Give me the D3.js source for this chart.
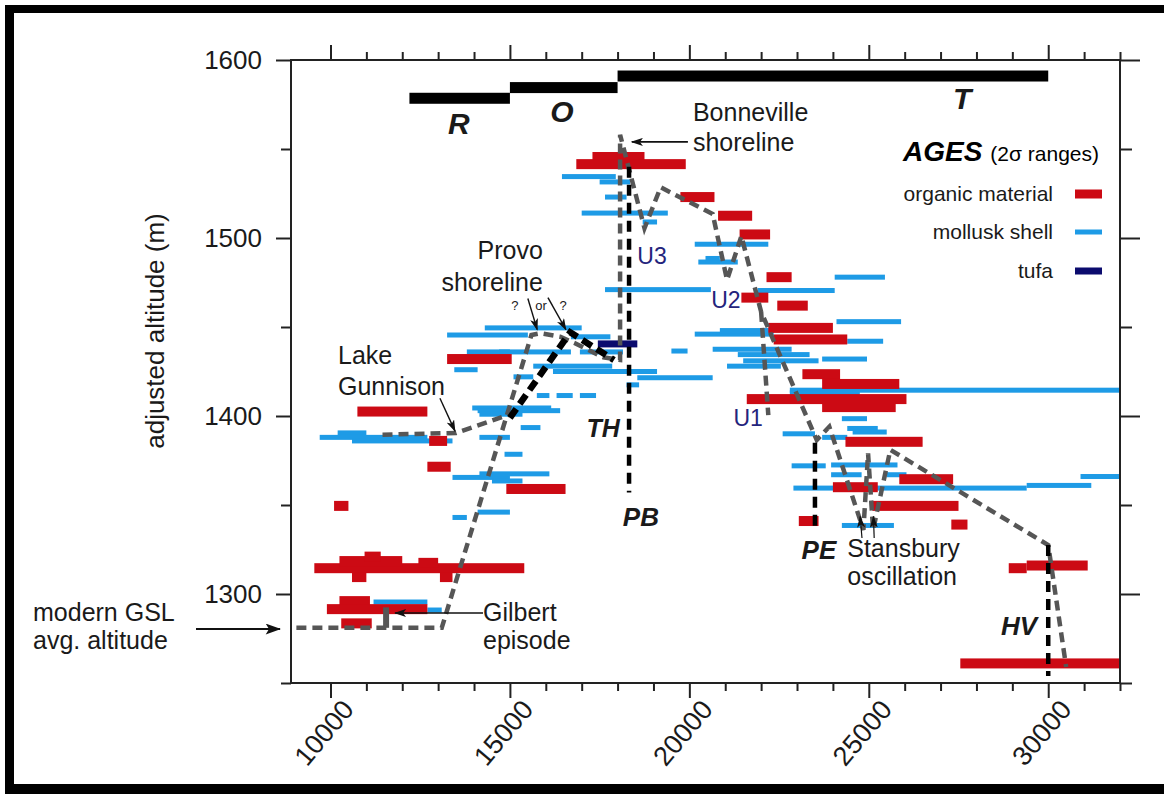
<!DOCTYPE html>
<html>
<head>
<meta charset="utf-8">
<script src="https://cdn.jsdelivr.net/npm/d3@7"></script>
<style>
  html, body { margin: 0; padding: 0; background: #fff; }
  svg { display: block; font-family: "Liberation Sans", Arial, sans-serif; }
</style>
</head>
<body>
<svg id="chart" width="1164" height="794"></svg>
<script>
// Radiocarbon age ranges (2σ, cal yr BP) with adjusted altitude (m): [ageFrom, ageTo, altitude]
const organic = [
  [17300, 18750, 1545.5], [16850, 19900, 1541.5], [19750, 20700, 1523], [20800, 21750, 1512.5],
  [21400, 22250, 1502], [22150, 22850, 1478], [21450, 22200, 1466.5], [22450, 23300, 1462],
  [22200, 24000, 1449.5], [22350, 24400, 1443], [23150, 24200, 1423.5], [23700, 25850, 1418],
  [21600, 26050, 1409.5], [23700, 25750, 1405], [24350, 26500, 1385.5], [25850, 27350, 1364.5],
  [24000, 25250, 1360], [25100, 27500, 1349.5], [23050, 23600, 1341], [27300, 27750, 1339],
  [28900, 29400, 1314.5], [29400, 31100, 1316], [27550, 32000, 1261],
  [10750, 12700, 1402.5], [12750, 13250, 1386], [12700, 13350, 1371.5], [14900, 16550, 1359],
  [10100, 10500, 1349.5], [9550, 15400, 1314.5], [10250, 12000, 1318.5], [10950, 11400, 1321],
  [12450, 13000, 1317.5], [10600, 11000, 1309.5], [13050, 13400, 1309.5], [10250, 11100, 1296],
  [9900, 12700, 1291.5], [10300, 11150, 1283.5], [13250, 15050, 1432]
];
const mollusk = [
  [16450, 17950, 1534.5], [17500, 18350, 1531.5], [17650, 18250, 1523], [17000, 19400, 1514],
  [18700, 19100, 1509], [20150, 22200, 1496.5], [20250, 21350, 1486.5], [20450, 20850, 1488.5],
  [24050, 25450, 1478], [17650, 20600, 1471], [21900, 24050, 1470.5], [24100, 25900, 1453],
  [20150, 22350, 1446], [20850, 22350, 1448], [20650, 22850, 1437.5], [24400, 25400, 1442],
  [21350, 23350, 1434.5], [21500, 23600, 1431], [23700, 24950, 1432], [19500, 19950, 1436.5],
  [21050, 22550, 1428], [18550, 20650, 1421.5], [22800, 32000, 1414.5], [22800, 24750, 1413],
  [24250, 24950, 1398.5], [24400, 25250, 1393], [24550, 25500, 1391], [22600, 23500, 1390],
  [23700, 24400, 1388], [22850, 23800, 1372], [23950, 25800, 1372.5], [25500, 26050, 1367],
  [23950, 24800, 1367], [30900, 32000, 1366], [22900, 29400, 1359.5], [29400, 31200, 1361],
  [24250, 25700, 1338.5],
  [14300, 17000, 1449.5], [13250, 15500, 1445.5], [16700, 17800, 1444.5], [13800, 15000, 1436],
  [14700, 16700, 1436], [16950, 18150, 1436], [13450, 14100, 1426], [15650, 17850, 1428],
  [16200, 19100, 1425], [15100, 15650, 1422], [18250, 18600, 1417.5], [15750, 16100, 1411.5],
  [16300, 16750, 1411.5], [16950, 17400, 1411.5], [13950, 16150, 1404.5], [14100, 16400, 1403],
  [14150, 15350, 1401], [15300, 15850, 1393.5], [10200, 11000, 1390.5], [9700, 12700, 1388],
  [10600, 13400, 1386], [14150, 15000, 1388], [14850, 15350, 1378.5], [13400, 15000, 1365.5],
  [14150, 16100, 1367.5], [14500, 15350, 1363.5], [14100, 15000, 1346], [13400, 13800, 1343],
  [11200, 12700, 1295.5], [12700, 13100, 1291]
];
const tufa = [[17450, 18550, 1440.5]];

// Lake phases: Tolbert (T), Bonneville-overflow (O), Provo-regression (R)
const phaseNames = ["R", "O", "T"];
const phaseAges = [[12200, 15000], [15000, 18000], [18000, 30000]];
const phaseAlts = [1578.5, 1584.5, 1591];

// Interpreted lake-level hydrograph [age, altitude]
const hydrograph = [
  [9050, 1281], [13100, 1281], [15600, 1445.5], [15850, 1446.5], [16400, 1444.5], [16800, 1441],
  [17600, 1433], [18070, 1431.5], [18070, 1558], [18750, 1505.5], [19200, 1528.5], [20650, 1513.5],
  [21050, 1476.5], [21450, 1501], [22000, 1458.5], [23550, 1386.5], [23900, 1394], [24850, 1336],
  [24980, 1379], [25120, 1336], [25600, 1381], [30000, 1327.5], [30500, 1259]
];
const branchU1 = [[22000, 1458.5], [22200, 1400.5]];
const branchGunnison = [[11450, 1389.5], [13500, 1390.5], [14950, 1400.5]];
const pathTH = [[15000, 1399], [16680, 1447], [17900, 1431.5]];
const markerPB = [[18320, 1540], [18320, 1357]];
const markerPE = [[23500, 1385], [23500, 1335]];
const markerHV = [[30000, 1327.5], [30000, 1254]];
const gilbertMark = [[11550, 1292.5], [11550, 1281]];

// Axis ticks
const xMajor = [10000, 15000, 20000, 25000, 30000];
const xMinor = [11000, 12000, 13000, 14000, 16000, 17000, 18000, 19000, 21000, 22000, 23000, 24000,
                26000, 27000, 28000, 29000, 31000, 32000];
const yMajor = [1300, 1400, 1500, 1600];
const yMinor = [1250, 1350, 1450, 1550];

const W = 1164, H = 794;
const P = { left: 291, right: 1120, top: 60, bottom: 683 };
const svg = d3.select("#chart");
const x = d3.scaleLinear().domain([8900, 32000]).range([P.left, P.right]);
const y = d3.scaleLinear().domain([1250, 1600]).range([P.bottom, P.top]);

const RED = "#cc0a14", BLUE = "#1e9be6", NAVY = "#0b0b6e", GREY = "#565656", INK = "#1a1a1a";

svg.append("rect").attr("width", W).attr("height", H).attr("fill", "#fff");

// outer border
svg.append("rect").attr("x", 5).attr("y", 5).attr("width", W - 5).attr("height", 8).attr("fill", "#000");
svg.append("rect").attr("x", 5).attr("y", 5).attr("width", 9).attr("height", H - 5).attr("fill", "#000");
svg.append("rect").attr("x", 5).attr("y", 784).attr("width", W - 5).attr("height", 10).attr("fill", "#000");

const defs = svg.append("defs");
defs.append("clipPath").attr("id", "plotClip").append("rect")
  .attr("x", P.left).attr("y", P.top).attr("width", P.right - P.left).attr("height", P.bottom - P.top);
defs.append("marker").attr("id", "arrow").attr("viewBox", "0 0 12 8")
  .attr("refX", 11).attr("refY", 4).attr("markerWidth", 12).attr("markerHeight", 8)
  .attr("markerUnits", "userSpaceOnUse").attr("orient", "auto")
  .append("path").attr("d", "M0,0 L12,4 L0,8 L3,4 z").attr("fill", "#111");
defs.append("marker").attr("id", "arrowBig").attr("viewBox", "0 0 14 10")
  .attr("refX", 13).attr("refY", 5).attr("markerWidth", 16).attr("markerHeight", 11)
  .attr("markerUnits", "userSpaceOnUse").attr("orient", "auto")
  .append("path").attr("d", "M0,0 L14,5 L0,10 L3,5 z").attr("fill", "#111");

// ---- axes ----
function styleAxis(g) {
  g.select(".domain").remove();
  g.selectAll("line").attr("stroke", "#222").attr("stroke-width", 2);
}
const fmt = d3.format("d");
svg.append("g").attr("transform", `translate(0,${P.bottom})`)
  .call(d3.axisBottom(x).tickValues(xMajor).tickSize(15).tickFormat(fmt))
  .call(styleAxis)
  .call(g => g.selectAll("text").attr("x", 0).attr("y", 0).attr("dy", "0.35em")
    .attr("text-anchor", "end").attr("transform", "translate(17,21) rotate(-50)")
    .attr("font-size", 27).attr("fill", INK).attr("font-family", "Liberation Sans, Arial, sans-serif"));
svg.append("g").attr("transform", `translate(0,${P.bottom})`)
  .call(d3.axisBottom(x).tickValues(xMinor).tickSize(8).tickFormat(""))
  .call(styleAxis);
svg.append("g").attr("transform", `translate(0,${P.top})`)
  .call(d3.axisTop(x).tickValues(xMajor).tickSize(15).tickFormat(""))
  .call(styleAxis);
svg.append("g").attr("transform", `translate(0,${P.top})`)
  .call(d3.axisTop(x).tickValues(xMinor).tickSize(8).tickFormat(""))
  .call(styleAxis);
svg.append("g").attr("transform", `translate(${P.left},0)`)
  .call(d3.axisLeft(y).tickValues(yMajor).tickSize(15).tickPadding(14).tickFormat(fmt))
  .call(styleAxis)
  .call(g => g.selectAll("text").attr("font-size", 26).attr("fill", INK)
    .attr("font-family", "Liberation Sans, Arial, sans-serif"));
svg.append("g").attr("transform", `translate(${P.left},0)`)
  .call(d3.axisLeft(y).tickValues(yMinor).tickSize(10).tickFormat(""))
  .call(styleAxis);
svg.append("g").attr("transform", `translate(${P.right},0)`)
  .call(d3.axisRight(y).tickValues(yMajor).tickSize(20).tickFormat(""))
  .call(styleAxis);
svg.append("g").attr("transform", `translate(${P.right},0)`)
  .call(d3.axisRight(y).tickValues(yMinor).tickSize(12).tickFormat(""))
  .call(styleAxis);

svg.append("text").attr("transform", `translate(164,331) rotate(-90)`)
  .attr("text-anchor", "middle").attr("font-size", 26).attr("fill", INK)
  .text("adjusted altitude (m)");

// ---- data marks ----
const marks = svg.append("g").attr("clip-path", "url(#plotClip)");
function bars(data, color, h) {
  marks.append("g").selectAll("rect").data(data).join("rect")
    .attr("x", d => x(d[0])).attr("width", d => x(d[1]) - x(d[0]))
    .attr("y", d => y(d[2]) - h / 2).attr("height", h).attr("fill", color);
}
bars(mollusk, BLUE, 5);
bars(organic, RED, 10);
bars(tufa, NAVY, 7);

const line = d3.line().x(d => x(d[0])).y(d => y(d[1]));
function dashed(data, color, width, dash) {
  marks.append("path").datum(data).attr("d", line).attr("fill", "none")
    .attr("stroke", color).attr("stroke-width", width).attr("stroke-dasharray", dash);
}
dashed(hydrograph, GREY, 4.5, "10,6");
dashed(branchU1, GREY, 4.5, "10,6");
dashed(branchGunnison, GREY, 4.5, "10,6");
dashed(pathTH, "#000", 6.5, "11,6");
dashed(markerPB, "#000", 4.5, "11,7");
dashed(markerPE, "#000", 4.5, "11,7");
dashed(markerHV, "#000", 4.5, "11,7");
marks.append("path").datum(gilbertMark).attr("d", line).attr("stroke", GREY).attr("stroke-width", 6);

// phase bars across the top
const phases = phaseNames.map((n, i) => ({ name: n, from: phaseAges[i][0], to: phaseAges[i][1], alt: phaseAlts[i] }));
svg.append("g").selectAll("rect").data(phases).join("rect")
  .attr("x", d => x(d.from)).attr("width", d => x(d.to) - x(d.from))
  .attr("y", d => y(d.alt) - 5.5).attr("height", 11).attr("fill", "#000");

// plot frame
svg.append("rect").attr("x", P.left).attr("y", P.top).attr("width", P.right - P.left)
  .attr("height", P.bottom - P.top).attr("fill", "none").attr("stroke", "#222").attr("stroke-width", 2);

// ---- annotations ----
const ann = svg.append("g").attr("fill", INK);
function label(txt, age, alt, opt = {}) {
  const t = ann.append("text").attr("x", x(age)).attr("y", y(alt)).attr("dy", "0.35em")
    .attr("font-size", opt.size || 25).attr("text-anchor", opt.anchor || "start")
    .attr("fill", opt.color || INK).text(txt);
  if (opt.bold) t.attr("font-weight", "bold");
  if (opt.italic) t.attr("font-style", "italic");
  return t;
}
function arrow(a0, h0, a1, h1, w = 1.6, big = false) {
  ann.append("line").attr("x1", x(a0)).attr("y1", y(h0)).attr("x2", x(a1)).attr("y2", y(h1))
    .attr("stroke", "#111").attr("stroke-width", w).attr("marker-end", big ? "url(#arrowBig)" : "url(#arrow)");
}

label("R", 13580, 1564.5, { size: 30, bold: true, italic: true, anchor: "middle" });
label("O", 16450, 1571, { size: 30, bold: true, italic: true, anchor: "middle" });
label("T", 27600, 1578.5, { size: 30, bold: true, italic: true, anchor: "middle" });

label("Bonneville", 20100, 1570.5);
label("shoreline", 20100, 1554);
arrow(19960, 1554, 18400, 1554);

label("Provo", 15920, 1493, { anchor: "end" });
label("shoreline", 15920, 1475, { anchor: "end" });
label("?", 15140, 1462, { size: 13, anchor: "middle" });
label("or", 15870, 1462, { size: 13, anchor: "middle" });
label("?", 16480, 1462, { size: 13, anchor: "middle" });
arrow(15500, 1466, 15760, 1448.5, 1.4);
arrow(16060, 1466.5, 16560, 1448.5, 1.4);

label("Lake", 10210, 1434);
label("Gunnison", 10210, 1416.5);
arrow(13050, 1410, 13470, 1391.5, 1.4);

label("Gilbert", 14250, 1290);
label("episode", 14250, 1274);
arrow(14250, 1289.3, 11800, 1289.3, 1.6);

label("Stansbury", 24400, 1325.5);
label("oscillation", 24400, 1310);
arrow(24810, 1331.5, 24760, 1343.5, 1.2);
arrow(25150, 1331.5, 25130, 1343.5, 1.2);

label("TH", 17600, 1393, { bold: true, italic: true, anchor: "middle" });
label("PB", 18650, 1343.5, { bold: true, italic: true, anchor: "middle", size: 26 });
label("PE", 23610, 1324.5, { bold: true, italic: true, anchor: "middle", size: 26 });
label("HV", 29190, 1282, { bold: true, italic: true, anchor: "middle", size: 26 });

label("U3", 18960, 1490, { size: 23, anchor: "middle", color: "#24247c" });
label("U2", 21020, 1465, { size: 23, anchor: "middle", color: "#24247c" });
label("U1", 21640, 1399, { size: 23, anchor: "middle", color: "#24247c" });

// modern Great Salt Lake level, outside the left axis
ann.append("text").attr("x", 33).attr("y", 612).attr("dy", "0.35em").attr("font-size", 25).text("modern GSL");
ann.append("text").attr("x", 33).attr("y", 640).attr("dy", "0.35em").attr("font-size", 25).text("avg. altitude");
ann.append("line").attr("x1", 196).attr("y1", y(1280.3)).attr("x2", 280).attr("y2", y(1280.3))
  .attr("stroke", "#111").attr("stroke-width", 2).attr("marker-end", "url(#arrowBig)");

// legend
const lg = svg.append("g");
const ages = lg.append("text").attr("x", 903).attr("y", 155).attr("dy", "0.35em");
ages.append("tspan").attr("font-size", 28).attr("font-weight", "bold").attr("font-style", "italic").text("AGES");
ages.append("tspan").attr("font-size", 21).attr("dx", 8).text("(2σ ranges)");
const legendItems = [
  { name: "organic material", color: RED, h: 9, cy: 194 },
  { name: "mollusk shell", color: BLUE, h: 5, cy: 232 },
  { name: "tufa", color: NAVY, h: 7, cy: 271 }
];
legendItems.forEach(it => {
  lg.append("text").attr("x", 1053).attr("y", it.cy).attr("dy", "0.35em").attr("text-anchor", "end")
    .attr("font-size", 21).attr("fill", INK).text(it.name);
  lg.append("rect").attr("x", 1075).attr("y", it.cy - it.h / 2).attr("width", 27).attr("height", it.h).attr("fill", it.color);
});
</script>
</body>
</html>
